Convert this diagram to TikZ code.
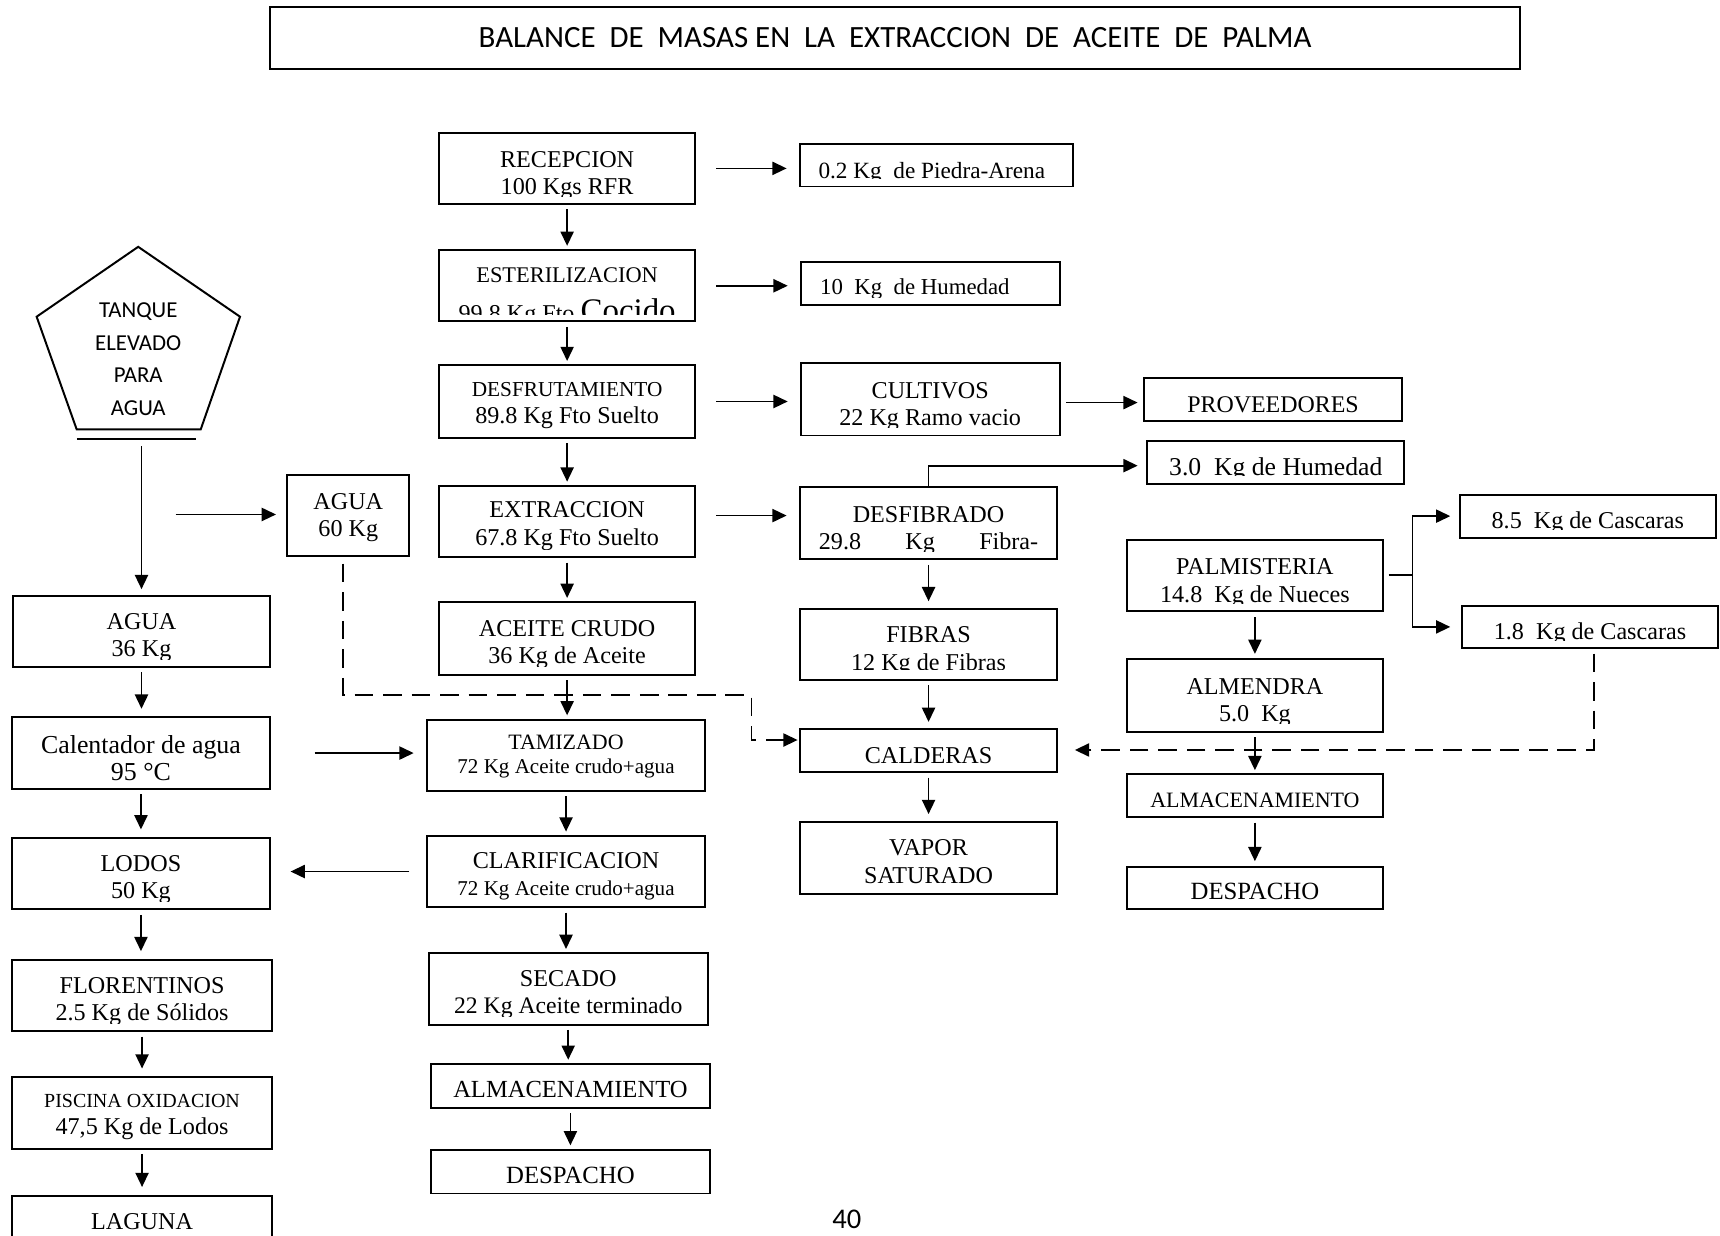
\documentclass[tikz,border=0pt]{standalone}
\usepackage{fontspec}
\setmainfont{Liberation Serif}
\newfontfamily\calib{Carlito}
\usetikzlibrary{arrows.meta,fit,calc}

% font size with a fixed line spacing
\newcommand\fs[1]{\fontsize{#1}{12.5}\selectfont}

\tikzset{
  frame/.style={draw, line width=0.9pt, inner sep=0pt},
  boxtext/.style={inner sep=0pt, align=center, anchor=north, yshift=3.5pt,
    font=\fs{11}, execute at begin node=\strut, execute at end node=\strut},
  oneline/.style={yshift=1.5pt},
  arr/.style={line width=0.8pt, -{Triangle[length=6.5pt,width=6pt]}},
  vflow/.style={arr, shorten <=2pt, shorten >=1.5pt},
  vflowL/.style={arr, shorten <=2pt, shorten >=3.5pt},
  hflow/.style={arr, shorten <=9pt, shorten >=5.5pt},
  dashline/.style={arr, dash pattern=on 8.5pt off 4.5pt},
}

% process box: [text clip above bottom]{name}{corner}{corner}{text style}{first line centre y}{text}
\newcommand\procbox[7][4pt]{%
  \node[frame, fit={#3 #4}] (#2) {};
  \begin{scope}
    \clip ([yshift=#1]#2.south west) rectangle (#2.north east);
    \node[boxtext, #5] (#2-t) at (#2.center |- 0,#6) {#7};
  \end{scope}}

\begin{document}
\begin{tikzpicture}[x=0.5pt, y=-0.5pt]
\useasboundingbox (0,0) rectangle (1568,1126);
\fill[white] (0,0) rectangle (1568,1126);
\clip (0,0) rectangle (1568,1126);

% title
\node[frame, fit={(246,6) (1386,63)}] (titlebox) {};
\node[font=\calib\fontsize{14.1}{17}\selectfont, inner sep=0pt] (title) at (816,34)
  {BALANCE\ \ DE\ \ MASAS EN\ \ LA\ \ EXTRACCION\ \ DE\ \ ACEITE\ \ DE\ \ PALMA};

% main line
\procbox{recep}{(400,121)}{(634,186)}{}{144.4}{RECEPCION\\100 Kgs RFR}
\procbox[3.8pt]{ester}{(400,228)}{(634,293)}{}{250.6}{{\fs{10.2}ESTERILIZACION}\\[5.5pt]99.8 Kg Fto {\fs{15}Cocido}}
\procbox{desfrut}{(400,333)}{(634,399)}{}{355}{{\fs{9.7}DESFRUTAMIENTO}\\89.8 Kg Fto Suelto}
\procbox{extrac}{(400,443)}{(634,508)}{}{464}{EXTRACCION\\67.8 Kg Fto Suelto}
\procbox{acrudo}{(400,549)}{(634,615)}{}{572}{ACEITE CRUDO\\36 Kg de Aceite}
\procbox{tamiz}{(389,656)}{(643,721)}{}{676.5}{{\fs{10}TAMIZADO}\\[-1.5pt]{\fs{9.6}72 Kg Aceite crudo+agua}}
\procbox{clarif}{(389,762)}{(643,827)}{}{783.5}{CLARIFICACION\\{\fs{9.6}72 Kg Aceite crudo+agua}}
\procbox{secado}{(391,869)}{(645,934)}{}{891}{SECADO\\{\fs{10.8}22 Kg Aceite terminado}}
\procbox{almM}{(393,970)}{(647,1010)}{oneline, font=\fs{11.2}}{993}{ALMACENAMIENTO}
\procbox{despM}{(393,1048)}{(647,1088)}{oneline, font=\fs{11.3}}{1071}{DESPACHO}

% side streams and fibre line
\procbox{piedra}{(729,131)}{(978,170)}{oneline, font=\fs{10.6}, xshift=-2pt}{155}{0.2 Kg\ \ de Piedra-Arena}
\procbox{hum10}{(730,239)}{(966,278)}{oneline, font=\fs{10.4}, xshift=-7pt}{261}{10\ \ Kg\ \ de Humedad}
\procbox{cult}{(730,331)}{(966,397)}{}{355}{CULTIVOS\\22 Kg Ramo vacio}
\procbox{prov}{(1043,345)}{(1278,384)}{oneline, font=\fs{10.9}}{368.5}{PROVEEDORES}
\procbox{hum3}{(1046,402)}{(1280,441)}{oneline, font=\fs{11.7}}{426}{3.0\ \ Kg de Humedad}
\procbox{desfib}{(729,444)}{(964,510)}{}{468}{DESFIBRADO\\\makebox[100pt][s]{29.8\hfill Kg\hfill Fibra-}}
\procbox[5.5pt]{fibras}{(729,555)}{(964,620)}{}{578}{FIBRAS\\12 Kg de Fibras}
\procbox{cald}{(729,665)}{(964,704)}{oneline}{688}{CALDERAS}
\procbox{vapor}{(729,749)}{(964,815)}{}{772}{VAPOR\\SATURADO}

% kernel line
\procbox{palm}{(1027,492)}{(1261,557)}{}{516}{PALMISTERIA\\14.8\ \ Kg de Nueces}
\procbox{c85}{(1331,451)}{(1564,490)}{oneline}{473.5}{8.5\ \ Kg de Cascaras}
\procbox{c18}{(1333,552)}{(1566,591)}{oneline}{575}{1.8\ \ Kg de Cascaras}
\procbox{almend}{(1027,601)}{(1261,667)}{}{625}{ALMENDRA\\5.0\ \ Kg}
\procbox{almR}{(1027,706)}{(1261,745)}{oneline, font=\fs{10}}{728}{ALMACENAMIENTO}
\procbox{despR}{(1027,790)}{(1261,829)}{oneline, font=\fs{11.3}}{812.5}{DESPACHO}

% water line
\draw[frame] (126,225) -- (218.8,288.7) -- (183,391.4) -- (69.9,391.4) -- (33.4,288.7) -- cycle;
\draw[line width=0.9pt] (70,400.5) -- (179,400.5);
\node[font=\calib\fontsize{10.4}{14.9}\selectfont, align=center, inner sep=0pt] (tank) at (126,327.3)
  {TANQUE\\ELEVADO\\PARA\\AGUA};
\procbox{agua60}{(262,433)}{(373,507)}{}{456.5}{AGUA\\60 Kg}
\procbox{agua36}{(12,543)}{(246,608)}{}{565.5}{AGUA\\36 Kg}
\procbox{calent}{(11,654)}{(246,719)}{font=\fs{11.8}}{677}{Calentador de agua\\95 °C}
\procbox{lodos}{(11,764)}{(246,829)}{}{786.5}{LODOS\\50 Kg}
\procbox{flor}{(11,875)}{(248,940)}{}{897.4}{FLORENTINOS\\2.5 Kg de Sólidos}
\procbox[3pt]{pisc}{(11,982)}{(248,1047)}{}{1003.8}{{\fs{9.1}PISCINA OXIDACION}\\47,5 Kg de Lodos}
\procbox{laguna}{(11,1090)}{(248,1170)}{oneline}{1113}{LAGUNA}

% page number
\node[font=\calib\fontsize{13}{15}\selectfont, inner sep=0pt] (pagenum) at (772,1111.5) {40};

% main flow
\draw[vflow] (recep.south) -- (recep.south |- ester.north);
\draw[vflow] (ester.south) -- (ester.south |- desfrut.north);
\draw[vflow] (desfrut.south) -- (desfrut.south |- extrac.north);
\draw[vflow] (extrac.south) -- (extrac.south |- acrudo.north);
\draw[vflow] (acrudo.south) -- (acrudo.south |- tamiz.north);
\draw[vflow] (tamiz.south) -- (tamiz.south |- clarif.north);
\draw[vflow] (clarif.south) -- (clarif.south |- secado.north);
\draw[vflow] (secado.south) -- (secado.south |- almM.north);
\draw[vflow] (almM.south) -- (almM.south |- despM.north);

% outputs to the right
\draw[hflow] (recep.east) -- (recep.east -| piedra.west);
\draw[hflow] (ester.east) -- (ester.east -| hum10.west);
\draw[hflow] (desfrut.east) -- (desfrut.east -| cult.west);
\draw[hflow] ([yshift=2.75pt]extrac.east) -- ([yshift=2.75pt]extrac.east -| desfib.west);
\draw[arr, shorten <=2.5pt, shorten >=2.5pt] ([yshift=-1.5pt]cult.east) -- ([yshift=-1.5pt]cult.east -| prov.west);
\draw[arr, shorten >=4pt] (desfib.north) |- ([yshift=-1.5pt]hum3.west);

% fibre line
\draw[vflow, shorten >=3pt] (desfib.south) -- (desfib.south |- fibras.north);
\draw[vflow, shorten >=3pt] (fibras.south) -- (fibras.south |- cald.north);
\draw[vflow, shorten >=3pt] (cald.south) -- (cald.south |- vapor.north);

% kernel line
\coordinate (split) at (1287.6,524.5);
\draw[line width=0.8pt, shorten <=2pt] (palm.east) -- (split);
\draw[arr, shorten >=4pt] (split) |- (c85.west);
\draw[arr, shorten >=5pt] (split) |- (c18.west);
\draw[vflow, shorten <=2.5pt, shorten >=2pt] (palm.south) -- (palm.south |- almend.north);
\draw[vflow] (almend.south) -- (almend.south |- almR.north);
\draw[vflow, shorten >=2pt] (almR.south) -- (almR.south |- despR.north);

% water line
\coordinate (tankout) at (129,407);
\draw[arr, shorten >=2.5pt] (tankout) -- (tankout |- agua36.north);
\coordinate (feed) at (160,469);
\draw[arr, shorten >=4.75pt] (feed) -- (feed -| agua60.west);
\draw[vflowL] (agua36.south) -- (agua36.south |- calent.north);
\draw[vflowL] (calent.south) -- (calent.south |- lodos.north);
\draw[vflowL] (lodos.south) -- (lodos.south |- flor.north);
\draw[vflowL] (flor.south) -- (flor.south |- pisc.north);
\draw[vflowL] (pisc.south) -- (pisc.south |- laguna.north);
\draw[arr, shorten <=20pt, shorten >=5.5pt] (calent.east) -- (calent.east -| tamiz.west);
\draw[arr, shorten <=7.5pt, shorten >=9pt] (clarif.west) -- (clarif.west -| lodos.east);

% fuel returns to the boilers
\coordinate (dA) at (313,633.6);
\coordinate (dB) at (685,633.6);
\coordinate (dC) at (685,674.6);
\draw[dashline, shorten <=3pt, shorten >=0.5pt] (agua60.south -| dA) -- (dA) -- (dB) -- (dC) -- (dC -| cald.west);
\coordinate (dD) at (1453,683.7);
\draw[dashline, shorten <=2pt, shorten >=7.5pt] (c18.south -| dD) -- (dD) -- (dD -| cald.east);
\end{tikzpicture}
\end{document}
